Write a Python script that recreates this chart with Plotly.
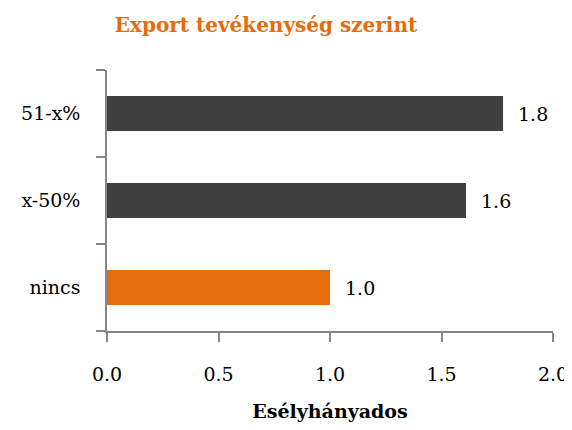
import plotly.graph_objects as go

categories = ["nincs", "x-50%", "51-x%"]
values = [1.0, 1.61, 1.776]
colors = ["#E46C0A", "#404040", "#404040"]
x_ticks = [0.0, 0.5, 1.0, 1.5, 2.0]
x_tick_labels = ["0.0", "0.5", "1.0", "1.5", "2.0"]
title_text = "Export tevékenység szerint"
x_title = "Esélyhányados"

FONT = "DejaVu Serif, serif"
FS = 19

# page body has an 8px default margin, so the figure is 8px smaller
W, H = 564, 422

fig = go.Figure()
fig.add_trace(go.Bar(
    x=values, y=categories, orientation="h",
    marker=dict(color=colors, line=dict(width=0)),
    width=0.4, showlegend=False, hoverinfo="skip",
))

for v, c in zip(values, categories):
    fig.add_annotation(x=v, y=c, text=f"{v:.1f}", showarrow=False,
                       xanchor="left", xshift=13,
                       font=dict(family=FONT, size=FS, color="#000000"))

fig.update_layout(
    width=W, height=H,
    margin=dict(l=99, r=19, t=62, b=99, autoexpand=False),
    paper_bgcolor="white", plot_bgcolor="white",
    title=dict(text=f"<b>{title_text}</b>", xref="container",
               x=258 / W, xanchor="center",
               y=1 - 17 / H, yanchor="middle",
               font=dict(family=FONT, size=20, color="#E46C0A")),
    font=dict(family=FONT, size=FS, color="#000000"),
)
fig.update_xaxes(
    range=[0, 2.0], tickvals=x_ticks, ticktext=x_tick_labels,
    showgrid=False, zeroline=False, automargin=False,
    showline=True, linecolor="#868686", linewidth=1.5,
    ticks="outside", ticklen=9, tickwidth=1.5, tickcolor="#868686",
    ticklabelstandoff=16,
    tickfont=dict(family=FONT, size=FS, color="#000000"),
    title=dict(text=f"<b>{x_title}</b>", standoff=21,
               font=dict(family=FONT, size=FS, color="#000000")),
)
fig.update_yaxes(
    type="category", categoryorder="array", categoryarray=categories,
    range=[-0.5, 2.5], automargin=False,
    showgrid=False, zeroline=False,
    showline=True, linecolor="#868686", linewidth=1.5,
    ticks="outside", ticklen=9, tickwidth=1.5, tickcolor="#868686",
    tickson="boundaries", ticklabelstandoff=21,
    tickfont=dict(family=FONT, size=FS, color="#000000"),
)

fig.write_html("out.html")
